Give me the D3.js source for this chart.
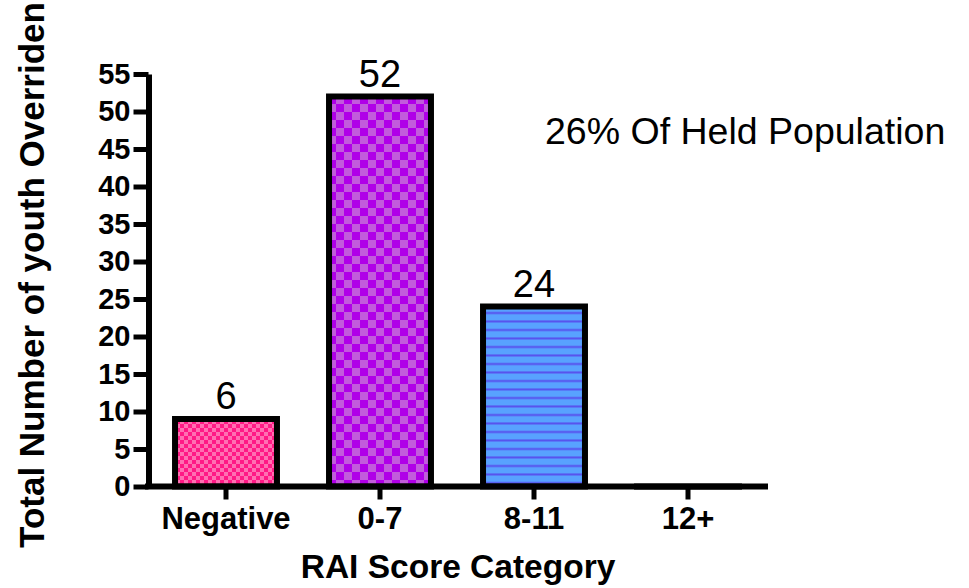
<!DOCTYPE html>
<html>
<head>
<meta charset="utf-8">
<script src="https://cdn.jsdelivr.net/npm/d3@7"></script>
<style>
  html, body { margin: 0; padding: 0; background: #fff; }
  svg { display: block; font-family: "Liberation Sans", Arial, Helvetica, sans-serif; }
</style>
</head>
<body>
<svg id="chart" width="969" height="588"></svg>
<script>
const categories = ["Negative", "0-7", "8-11", "12+"];
const values = [9, 52, 24, 0];
const valueLabels = ["6", "52", "24", ""];
const yTicks = [0, 5, 10, 15, 20, 25, 30, 35, 40, 45, 50, 55];
const yTitle = "Total Number of youth Overriden";
const xTitle = "RAI Score Category";
const annotation = "26% Of Held Population";

const svg = d3.select("#chart");
const defs = svg.append("defs");

// Pink small checker
const p1 = defs.append("pattern").attr("id", "pat0").attr("patternUnits", "userSpaceOnUse")
  .attr("width", 8).attr("height", 8);
p1.append("rect").attr("width", 8).attr("height", 8).attr("fill", "#ff1a86");
p1.append("rect").attr("width", 4).attr("height", 4).attr("fill", "#ff70b2");
p1.append("rect").attr("x", 4).attr("y", 4).attr("width", 4).attr("height", 4).attr("fill", "#ff70b2");

// Purple large checker
const p2 = defs.append("pattern").attr("id", "pat1").attr("patternUnits", "userSpaceOnUse")
  .attr("width", 16).attr("height", 16);
p2.append("rect").attr("width", 16).attr("height", 16).attr("fill", "#b000e8");
p2.append("rect").attr("width", 8).attr("height", 8).attr("fill", "#c25cdc");
p2.append("rect").attr("x", 8).attr("y", 8).attr("width", 8).attr("height", 8).attr("fill", "#c25cdc");

// Blue horizontal lines
const p3 = defs.append("pattern").attr("id", "pat2").attr("patternUnits", "userSpaceOnUse")
  .attr("width", 8).attr("height", 8.5);
p3.append("rect").attr("width", 8).attr("height", 8.5).attr("fill", "#58a2ff");
p3.append("rect").attr("y", 6).attr("width", 8).attr("height", 2).attr("fill", "#5850ee");

const fills = ["url(#pat0)", "url(#pat1)", "url(#pat2)", "#ffffff"];

const x = d3.scaleBand().domain(categories).range([149, 765])
  .paddingInner(0.338).paddingOuter(0.169);
const y = d3.scaleLinear().domain([0, 55]).range([486.5, 74]);

// Bars
svg.append("g").selectAll("rect").data(categories).join("rect")
  .attr("x", d => x(d))
  .attr("y", (d, i) => y(values[i]))
  .attr("width", x.bandwidth())
  .attr("height", (d, i) => Math.max(y(0) - y(values[i]), 0.1))
  .attr("fill", (d, i) => fills[i])
  .attr("stroke", "#000")
  .attr("stroke-width", 6);

// Y axis
const gy = svg.append("g").attr("transform", "translate(148.5,0)")
  .call(d3.axisLeft(y).tickValues(yTicks).tickSize(15).tickSizeOuter(0).tickPadding(3));
gy.select(".domain").attr("stroke", "#000").attr("stroke-width", 6);
gy.selectAll(".tick line").attr("stroke", "#000").attr("stroke-width", 5);
gy.selectAll(".tick text").attr("fill", "#000")
  .style("font-size", "29px").style("font-weight", "bold")
  .style("font-family", "'Liberation Sans', Arial, sans-serif");

// X axis
const gx = svg.append("g").attr("transform", "translate(0,486.5)")
  .call(d3.axisBottom(x).tickSize(13).tickSizeOuter(0).tickPadding(0));
gx.select(".domain").remove();
gx.append("line").attr("x1", 145).attr("x2", 768).attr("y1", 0).attr("y2", 0)
  .attr("stroke", "#000").attr("stroke-width", 6);
gx.selectAll(".tick line").attr("stroke", "#000").attr("stroke-width", 5);
gx.selectAll(".tick text").attr("fill", "#000").attr("y", 42).attr("dy", 0)
  .style("font-size", "31px").style("font-weight", "bold")
  .style("font-family", "'Liberation Sans', Arial, sans-serif");

// Value labels
svg.append("g").selectAll("text").data(categories).join("text")
  .attr("x", d => x(d) + x.bandwidth() / 2)
  .attr("y", (d, i) => y(values[i]) - 10)
  .attr("text-anchor", "middle")
  .style("font-size", "38px")
  .text((d, i) => valueLabels[i]);

// Annotation
svg.append("text").attr("x", 545).attr("y", 144)
  .style("font-size", "37.5px").text(annotation);

// Axis titles
svg.append("text").attr("x", 458).attr("y", 578).attr("text-anchor", "middle")
  .style("font-size", "33.5px").style("font-weight", "bold").text(xTitle);
svg.append("text").attr("transform", "translate(44,275) rotate(-90)").attr("text-anchor", "middle")
  .style("font-size", "35px").style("font-weight", "bold").text(yTitle);
</script>
</body>
</html>
